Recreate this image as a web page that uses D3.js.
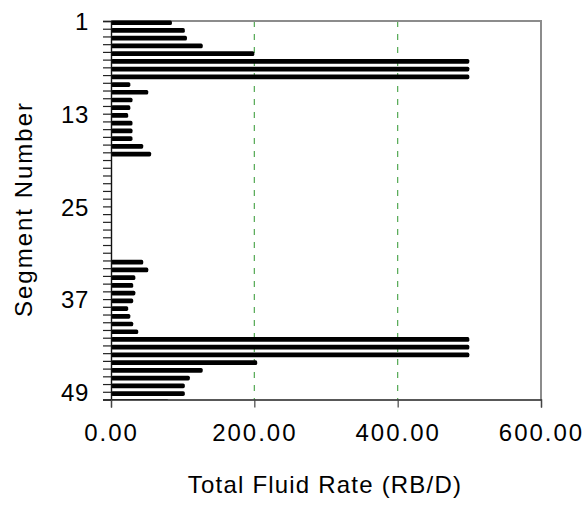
<!DOCTYPE html>
<html>
<head>
<meta charset="utf-8">
<script src="https://cdn.jsdelivr.net/npm/d3@7/dist/d3.min.js"></script>
<style>
  html, body { margin: 0; padding: 0; background: #fff; }
  svg { display: block; }
  text { font-family: "Liberation Sans", Arial, sans-serif; fill: #000; }
</style>
</head>
<body>
<svg id="chart" width="588" height="508"></svg>
<script>
// Segment numbers 1..50 along the well
const segments = d3.range(1, 51);
// Total fluid rate per segment (RB/D); null where the segment carries no flow
const fluidRate = [
  85, 103, 106, 128, 200, 500, 500, 500, 27, 52,
  30, 27, 24, 30, 30, 30, 45, 56, null, null,
  null, null, null, null, null, null, null, null, null, null,
  null, 45, 52, 34, 31, 34, 31, 24, 27, 31,
  38, 500, 500, 500, 204, 128, 110, 103, 103, 80
];
const xTicks = [0, 200, 400, 600];
const gridValues = [200, 400];
const yLabelSegments = [1, 13, 25, 37, 49];

const svg = d3.select("#chart");
const plot = { left: 111, right: 541, top: 21, bottom: 399.5 };

const x = d3.scaleLinear().domain([0, 600]).range([plot.left, plot.right]);
const y = d3.scaleLinear().domain([1, 50]).range([plot.top, plot.bottom]);

svg.append("defs").append("clipPath").attr("id", "plotClip")
  .append("rect")
  .attr("x", plot.left).attr("y", plot.top - 1)
  .attr("width", plot.right - plot.left).attr("height", plot.bottom - plot.top + 1.2);

// dashed vertical gridlines
svg.append("g").selectAll("line").data(gridValues).join("line")
  .attr("x1", d => x(d)).attr("x2", d => x(d))
  .attr("y1", plot.top).attr("y2", plot.bottom)
  .attr("stroke", "#52a852").attr("stroke-width", 1.2)
  .attr("stroke-dasharray", "6,7");

// top and right frame lines
svg.append("path")
  .attr("d", `M${plot.left},${plot.top}H${plot.right}V${plot.bottom}`)
  .attr("fill", "none").attr("stroke", "#8c8c8c").attr("stroke-width", 2);

// bars
const rows = segments.map((s, i) => ({ seg: s, v: fluidRate[i] })).filter(d => d.v != null);
svg.append("g").attr("clip-path", "url(#plotClip)")
  .selectAll("rect").data(rows).join("rect")
  .attr("x", x(0))
  .attr("y", d => y(d.seg) - 0.6)
  .attr("width", d => x(d.v) - x(0))
  .attr("height", 4.7)
  .attr("rx", 1.6)
  .attr("fill", "#000");

// left (segment) axis
const yAxis = d3.axisLeft(y)
  .tickValues(segments)
  .tickSize(8)
  .tickFormat(d => yLabelSegments.includes(d) ? d : "");
const gy = svg.append("g").attr("transform", `translate(${plot.left},0)`).call(yAxis);
gy.select(".domain").attr("stroke", "#111").attr("stroke-width", 1.4);
gy.selectAll(".tick line").attr("stroke", "#222").attr("stroke-width", 1.2);
gy.selectAll(".tick text")
  .attr("x", -22).attr("dy", "0.36em")
  .style("font-size", "24px").style("letter-spacing", "0.6px")
  .attr("fill", "#000");

// bottom (rate) axis
const xAxis = d3.axisBottom(x)
  .tickValues(xTicks)
  .tickSize(8)
  .tickFormat(d3.format(".2f"));
const gx = svg.append("g").attr("transform", `translate(0,${plot.bottom})`).call(xAxis);
gx.select(".domain").attr("stroke", "#222").attr("stroke-width", 1.3);
gx.selectAll(".tick line").attr("stroke", "#444").attr("stroke-width", 1.2);
gx.selectAll(".tick text")
  .attr("y", 24).attr("dy", "0.71em")
  .style("font-size", "24px").style("letter-spacing", "2px")
  .attr("fill", "#000");

// axis titles
svg.append("text")
  .attr("x", 325).attr("y", 493)
  .attr("text-anchor", "middle")
  .style("font-size", "24px").style("letter-spacing", "1.2px")
  .text("Total Fluid Rate (RB/D)");

svg.append("text")
  .attr("transform", "translate(32,209) rotate(-90)")
  .attr("text-anchor", "middle")
  .style("font-size", "24px").style("letter-spacing", "2px")
  .text("Segment Number");
</script>
</body>
</html>
